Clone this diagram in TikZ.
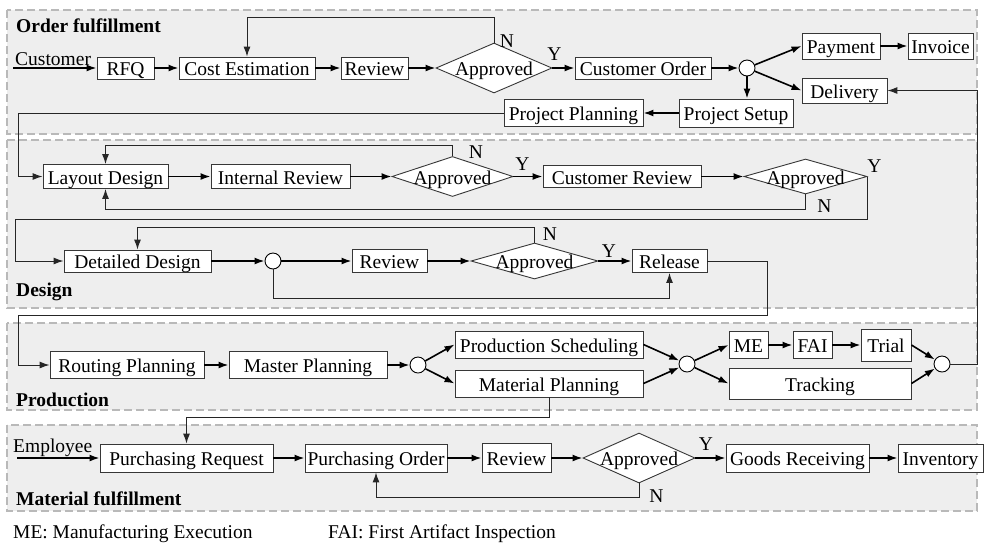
\documentclass[tikz,border=0pt]{standalone}
\usepackage{fontspec}
\setmainfont{Liberation Serif}
\usetikzlibrary{arrows.meta,shapes.geometric}
\definecolor{panelfill}{RGB}{238,238,238}
\definecolor{paneledge}{RGB}{185,185,185}
\definecolor{boxedge}{RGB}{55,55,55}
\begin{document}
\begin{tikzpicture}[x=1pt,y=-1pt,
  font=\fontsize{19.5}{22}\selectfont,
  every node/.style={inner sep=0pt},
  panel/.style={fill=panelfill,draw=paneledge,line width=1.1pt,dash pattern=on 8pt off 4pt},
  box/.style={rectangle,draw=boxedge,fill=white,line width=0.9pt,text height=15pt,text depth=0pt},
  dia/.style={diamond,draw=boxedge,fill=white,line width=0.9pt,text height=15pt,text depth=0pt},
  junction/.style={circle,draw=black,fill=white,line width=0.9pt,minimum size=16pt},
  title/.style={anchor=base west,font=\fontsize{19.5}{22}\selectfont\bfseries},
  plain/.style={anchor=base west},
  flow/.style={line width=1.6pt,-{Latex[length=10pt,width=7pt]}},
  back/.style={line width=1pt,draw=black!85,-{Latex[length=10pt,width=7pt]}},
  yn/.style={}
]
\useasboundingbox (0,0) rectangle (984,542);

% swimlanes
\draw[panel] (7,10) rectangle (977,134);
\draw[panel] (7,140) rectangle (977,308);
\draw[panel] (7,323) rectangle (977,410);
\draw[panel] (7,425) rectangle (977,511);

\node[title] (lane1) at (16,32) {Order fulfillment};
\node[title] (lane2) at (16,296) {Design};
\node[title] (lane3) at (16,406) {Production};
\node[title] (lane4) at (16,505) {Material fulfillment};

% routing levels for the feedback lines
\coordinate (l0) at (0,17);
\coordinate (l2) at (0,145);
\coordinate (l3) at (0,209);
\coordinate (l4) at (0,219);
\coordinate (l5) at (0,227);
\coordinate (l6) at (0,298);
\coordinate (l7) at (0,315);
\coordinate (l8) at (0,417);
\coordinate (l9) at (0,497);
\coordinate (k1) at (18,0);
\coordinate (k2) at (15,0);
\coordinate (k3) at (767,0);
\coordinate (k4) at (977,0);

% order fulfillment
\coordinate (cust) at (13,68);
\node[plain] (custlbl) at (15,65) {Customer};
\node[box,minimum width=57pt,minimum height=22pt] (rfq) at (125.5,68) {RFQ};
\node[box,minimum width=136pt,minimum height=22pt] (cost) at (247,68) {Cost Estimation};
\node[box,minimum width=67pt,minimum height=22pt] (rev1) at (374.5,68) {Review};
\node[dia,minimum width=116pt,minimum height=50pt] (ap1) at (494,68) {\makebox[0pt]{Approved}};
\node[box,minimum width=136pt,minimum height=22pt] (corder) at (643,68) {Customer Order};
\node[junction] (c1) at (747,68) {};
\node[box,minimum width=78pt,minimum height=26pt] (pay) at (841,46) {Payment};
\node[box,minimum width=65pt,minimum height=26pt] (inv) at (940.5,46) {Invoice};
\node[box,minimum width=85pt,minimum height=25pt] (deliv) at (844.5,90.5) {Delivery};
\node[box,minimum width=114pt,minimum height=28pt] (psetup) at (736,113) {Project Setup};
\node[box,minimum width=139pt,minimum height=27pt] (pplan) at (573.5,113) {Project Planning};
\node[yn] (n1) at (507,41.5) {N};
\node[yn] (y1) at (554.5,54.5) {Y};

% design
\node[box,minimum width=125pt,minimum height=24pt] (layout) at (105.5,176.5) {Layout Design};
\node[box,minimum width=139pt,minimum height=24pt] (irev) at (280.5,176.5) {Internal Review};
\node[dia,minimum width=121pt,minimum height=40pt] (ap2) at (452.5,176.5) {\makebox[0pt]{Approved}};
\node[box,minimum width=158pt,minimum height=22pt] (crev) at (622,176.5) {Customer Review};
\node[dia,minimum width=123pt,minimum height=35pt] (ap3) at (805.5,176.5) {\makebox[0pt]{Approved}};
\node[yn] (n2) at (476,152) {N};
\node[yn] (y2) at (522.5,164.5) {Y};
\node[yn] (y3) at (874.5,166.5) {Y};
\node[yn] (n3) at (824.5,206) {N};

\node[box,minimum width=147pt,minimum height=22pt] (ddes) at (137.5,261) {Detailed Design};
\node[junction] (c2) at (273,261) {};
\node[box,minimum width=75pt,minimum height=23pt] (rev2) at (389.5,261) {Review};
\node[dia,minimum width=127pt,minimum height=36pt] (ap4) at (534.5,261) {\makebox[0pt]{Approved}};
\node[box,minimum width=75pt,minimum height=23pt] (rel) at (669.5,261) {Release};
\node[yn] (n4) at (550,234.5) {N};
\node[yn] (y4) at (609,251) {Y};

% production
\node[box,minimum width=154pt,minimum height=27pt] (routing) at (127,365) {Routing Planning};
\node[box,minimum width=158pt,minimum height=27pt] (master) at (308,365) {Master Planning};
\node[junction] (c3) at (418,365) {};
\node[box,minimum width=188pt,minimum height=27pt] (psched) at (549,344.5) {Production Scheduling};
\node[box,minimum width=188pt,minimum height=27pt] (mplan) at (549,383.5) {Material Planning};
\node[junction] (c4) at (687,364) {};
\node[box,minimum width=39pt,minimum height=27pt] (me) at (748.5,345) {ME};
\node[box,minimum width=39pt,minimum height=27pt] (fai) at (812.5,345) {FAI};
\node[box,minimum width=50pt,minimum height=32pt] (trial) at (886,345) {Trial};
\node[box,minimum width=182pt,minimum height=31pt] (track) at (820,383.5) {Tracking};
\node[junction] (c5) at (942,364) {};

% material fulfillment
\coordinate (empl) at (17,458);
\node[plain] (empllbl) at (13,452) {Employee};
\node[box,minimum width=173pt,minimum height=28pt] (preq) at (186.5,458) {Purchasing Request};
\node[box,minimum width=142pt,minimum height=28pt] (porder) at (376,458) {Purchasing Order};
\node[box,minimum width=69pt,minimum height=29pt] (rev3) at (516.5,458) {Review};
\node[dia,minimum width=112pt,minimum height=50pt] (ap5) at (639,458) {\makebox[0pt]{Approved}};
\node[box,minimum width=143pt,minimum height=28pt] (goods) at (797.5,458) {Goods Receiving};
\node[box,minimum width=85pt,minimum height=28pt] (invent) at (940.5,458) {Inventory};
\node[yn] (y5) at (706,444) {Y};
\node[yn] (n5) at (656.5,496) {N};

% legend
\node[plain] (leg1) at (13,538) {ME: Manufacturing Execution};
\node[plain] (leg2) at (328,538) {FAI: First Artifact Inspection};

% main flow
\draw[flow] (cust) -- (rfq);
\draw[flow] (rfq) -- (cost);
\draw[flow] (cost) -- (rev1);
\draw[flow] (rev1) -- (ap1);
\draw[flow] (ap1) -- (corder);
\draw[flow] (corder) -- (c1);
\draw[flow] (c1) -- (pay.west);
\draw[flow] (c1) -- (deliv.west);
\draw[flow] (c1.south) -- (c1.south |- psetup.north);
\draw[flow] (pay) -- (inv);
\draw[flow] (psetup) -- (pplan);

\draw[flow] (layout) -- (irev);
\draw[flow] (irev) -- (ap2);
\draw[flow] (ap2) -- (crev);
\draw[flow] (crev) -- (ap3);
\draw[flow] (ddes) -- (c2);
\draw[flow] (c2) -- (rev2);
\draw[flow] (rev2) -- (ap4);
\draw[flow] (ap4) -- (rel);

\draw[flow] (routing) -- (master);
\draw[flow] (master) -- (c3);
\draw[flow] (c3) -- (psched.west);
\draw[flow] (c3) -- (mplan.west);
\draw[flow] (psched.east) -- (c4);
\draw[flow] (mplan.east) -- (c4);
\draw[flow] (c4) -- (me.west);
\draw[flow] (c4) -- (track.west);
\draw[flow] (me) -- (fai);
\draw[flow] (fai) -- (trial);
\draw[flow] (trial.east) -- (c5);
\draw[flow] (track.east) -- (c5);

\draw[flow] (empl) -- (preq);
\draw[flow] (preq) -- (porder);
\draw[flow] (porder) -- (rev3);
\draw[flow] (rev3) -- (ap5);
\draw[flow] (ap5) -- (goods);
\draw[flow] (goods) -- (invent);

% feedback and hand-over lines
\draw[back] (ap1.north) |- (cost.north |- l0) -- (cost.north);
\draw[back] (pplan.west) -| (k1 |- layout.west) -- (layout.west);
\draw[back] (ap2.north) |- (layout.north |- l2) -- (layout.north);
\draw[back] (ap3.south) |- (layout.south |- l3) -- (layout.south);
\draw[back] (ap3.east) |- (k2 |- l4) |- (ddes.west);
\draw[back] (ap4.north) |- (ddes.north |- l5) -- (ddes.north);
\draw[back] (c2.south) |- (rel.south |- l6) -- (rel.south);
\draw[back] (rel.east) -| (k3 |- l7) -| (k1 |- routing.west) -- (routing.west);
\draw[back] (c5.east) -| (k4 |- deliv.east) -- (deliv.east);
\draw[back] (mplan.south) |- (preq.north |- l8) -- (preq.north);
\draw[back] (ap5.south) |- (porder.south |- l9) -- (porder.south);
\end{tikzpicture}
\end{document}
